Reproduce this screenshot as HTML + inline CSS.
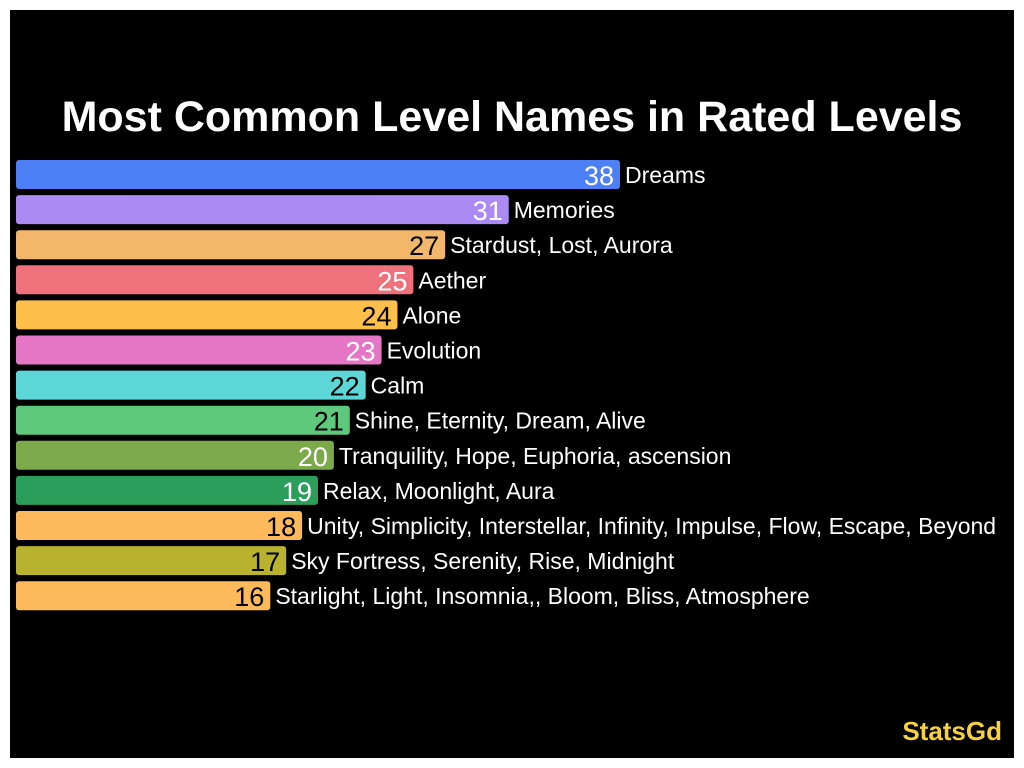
<!DOCTYPE html>
<html><head><meta charset="utf-8"><style>
html,body{margin:0;padding:0;background:#fff;}
#frame{position:absolute;left:10px;top:10px;width:1004px;height:748px;background:#000;}
svg{position:absolute;left:0;top:0;}
</style></head><body>
<div id="frame"></div>
<svg id="chart" width="1024" height="768">
<text x="512" y="131" text-anchor="middle" fill="#fff" font-family="'Liberation Sans',sans-serif" font-weight="bold" font-size="43">Most Common Level Names in Rated Levels</text>
<text x="1002" y="740" text-anchor="end" fill="#f5d142" font-family="'Liberation Sans',sans-serif" font-weight="bold" font-size="26">StatsGd</text>
<g id="bars"></g>
</svg>
<script>
const values = [38,31,27,25,24,23,22,21,20,19,18,17,16];
const names = ["Dreams","Memories","Stardust, Lost, Aurora","Aether","Alone","Evolution","Calm","Shine, Eternity, Dream, Alive","Tranquility, Hope, Euphoria, ascension","Relax, Moonlight, Aura","Unity, Simplicity, Interstellar, Infinity, Impulse, Flow, Escape, Beyond","Sky Fortress, Serenity, Rise, Midnight","Starlight, Light, Insomnia,, Bloom, Bliss, Atmosphere"];
const colors = ["#4d80f7","#ab8af3","#f2b76b","#ee717b","#fec04b","#e576c5","#5cd6d6","#5ec97d","#7ca94a","#2a9e5a","#fdb95a","#b8b22f","#fdb95a"];
const numColors = ["#fff","#fff","#000","#fff","#000","#fff","#000","#000","#fff","#fff","#000","#000","#000"];
const x0=16, scale=(620-16)/38;
const xs=v=>x0+v*scale;
const ys=i=>160+i*35.1;
const g=document.getElementById('bars');
const NS='http://www.w3.org/2000/svg';
values.forEach((v,i)=>{
  const r=document.createElementNS(NS,'rect');
  r.setAttribute('x',x0);r.setAttribute('y',ys(i));
  r.setAttribute('width',xs(v)-x0);r.setAttribute('height',29);
  r.setAttribute('rx',3);r.setAttribute('fill',colors[i]);
  
  
  g.appendChild(r);
  const t=document.createElementNS(NS,'text');
  t.setAttribute('x',xs(v)-6);t.setAttribute('y',ys(i)+25);
  t.setAttribute('text-anchor','end');t.setAttribute('fill',numColors[i]);
  t.setAttribute('font-family',"'Liberation Sans',sans-serif");t.setAttribute('font-size','27');
  t.textContent=v;
  
  
  g.appendChild(t);
  const n=document.createElementNS(NS,'text');
  n.setAttribute('x',xs(v)+5);n.setAttribute('y',ys(i)+23);
  n.setAttribute('fill','#fff');
  n.setAttribute('font-family',"'Liberation Sans',sans-serif");n.setAttribute('font-size','23');
  n.textContent=names[i];
  
  
  g.appendChild(n);
});
</script>
</body></html>
